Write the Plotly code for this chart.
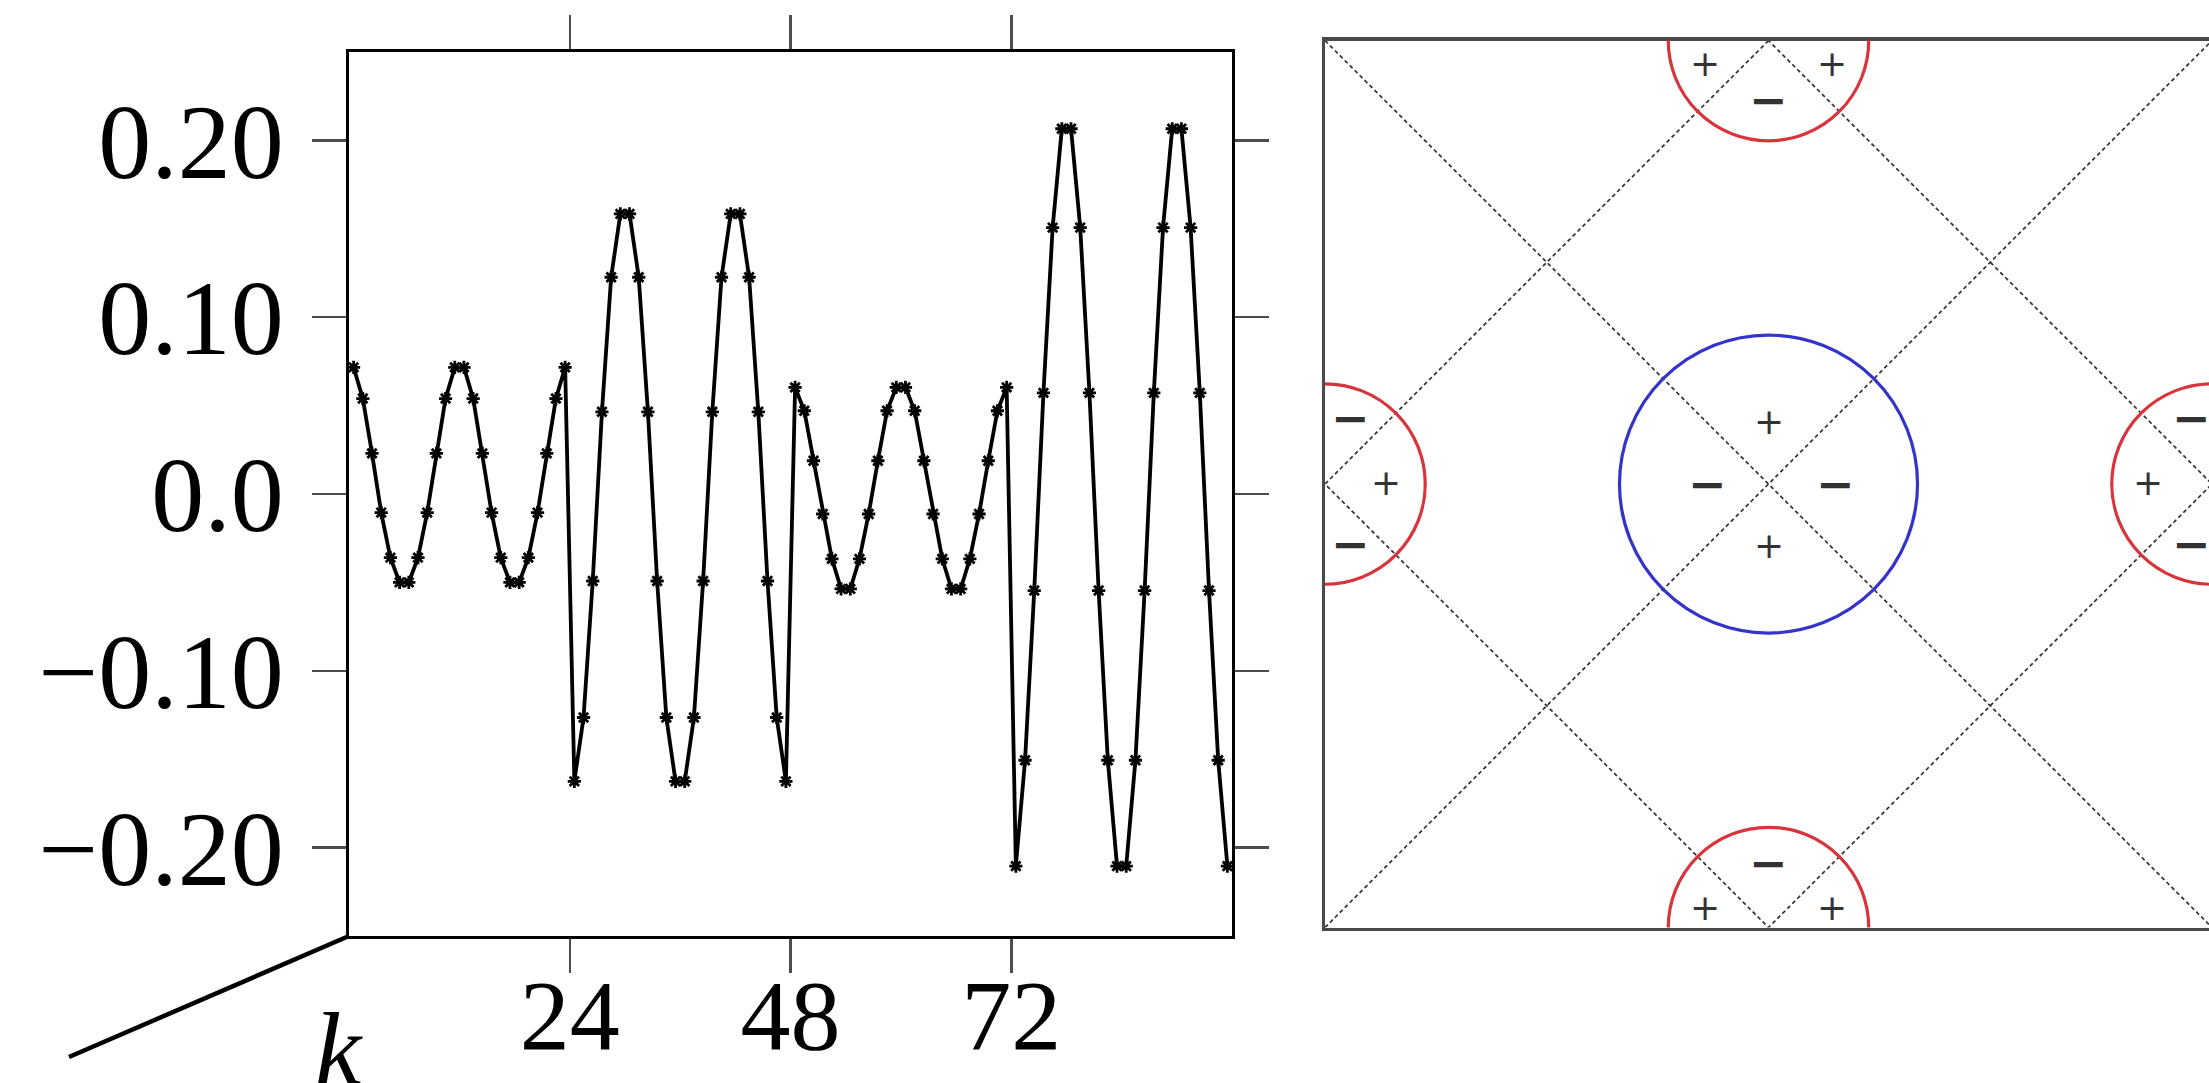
import numpy as np
import plotly.graph_objects as go

# ---------------- data: left panel ----------------
seg1 = [0.0716, 0.0540, 0.0230, -0.0105, -0.0360, -0.0500,
        -0.0500, -0.0360, -0.0105, 0.0230, 0.0540, 0.0716,
        0.0716, 0.0540, 0.0230, -0.0105, -0.0360, -0.0500,
        -0.0500, -0.0360, -0.0105, 0.0230, 0.0540, 0.0716]
seg2 = [-0.1625, -0.1264, -0.0492, 0.0465, 0.1226, 0.1584,
        0.1584, 0.1226, 0.0465, -0.0492, -0.1264, -0.1625,
        -0.1625, -0.1264, -0.0492, 0.0465, 0.1226, 0.1584,
        0.1584, 0.1226, 0.0465, -0.0492, -0.1264, -0.1625]
seg3 = [0.0603, 0.0471, 0.0188, -0.0113, -0.0367, -0.0537,
        -0.0537, -0.0367, -0.0113, 0.0188, 0.0471, 0.0603,
        0.0603, 0.0471, 0.0188, -0.0113, -0.0367, -0.0537,
        -0.0537, -0.0367, -0.0113, 0.0188, 0.0471, 0.0603]
seg4 = [-0.2105, -0.1506, -0.0546, 0.0572, 0.1507, 0.2066,
        0.2066, 0.1507, 0.0572, -0.0546, -0.1506, -0.2105,
        -0.2105, -0.1506, -0.0546, 0.0572, 0.1507, 0.2066,
        0.2066, 0.1507, 0.0572, -0.0546, -0.1506, -0.2105]
values = seg1 + seg2 + seg3 + seg4
k_pos = np.arange(len(values)) + 0.5

x_tickvals = [24, 48, 72]
x_ticktext = ["24", "48", "72"]
y_tickvals = [-0.2, -0.1, 0.0, 0.1, 0.2]
y_ticktext = ["\u22120.20", "\u22120.10", "0.0", "0.10", "0.20"]

# ---------------- data: right panel ----------------
diag_a_u = [0, 1]
diag_a_v = [0, 1]
diag_b_u = [0, 1]
diag_b_v = [1, 0]
diamond_u = [0.5, 0, 0.5, 1, 0.5]
diamond_v = [1, 0.5, 0, 0.5, 1]

red_centers = [(0.5, 1.0), (0.5, 0.0), (0.0, 0.5), (1.0, 0.5)]
red_radius = 0.113
blue_center = (0.5, 0.5)
blue_radius = 0.168

plus_u = [0.5, 0.5, 0.428, 0.572, 0.428, 0.572, 0.069, 0.928]
plus_v = [0.570, 0.431, 0.974, 0.974, 0.023, 0.023, 0.502, 0.502]
minus_u = [0.431, 0.576, 0.5, 0.5, 0.029, 0.029, 0.977, 0.977]
minus_v = [0.5, 0.5, 0.933, 0.073, 0.574, 0.432, 0.574, 0.432]

W, H = 2209, 1083
RED = "#d9333b"
BLUE = "#3434c8"
SERIF = "Liberation Serif"
R_LEFT = 1325

fig = go.Figure()

fig.add_trace(go.Scatter(
    x=k_pos, y=values, mode="lines+markers",
    line=dict(color="black", width=3.8),
    marker=dict(symbol="asterisk-open", size=11, color="black",
                line=dict(width=2.8, color="black")),
    xaxis="x", yaxis="y", hoverinfo="skip"))

dash = "4px,3px"
for uu, vv in [(diag_a_u, diag_a_v), (diag_b_u, diag_b_v), (diamond_u, diamond_v)]:
    fig.add_trace(go.Scatter(x=uu, y=vv, mode="lines",
                             line=dict(color="#333333", width=1.7, dash=dash),
                             xaxis="x2", yaxis="y2", hoverinfo="skip"))

shapes = []
for cu, cv in red_centers:
    shapes.append(dict(type="circle", xref="x2", yref="y2",
                       x0=cu - red_radius, x1=cu + red_radius,
                       y0=cv - red_radius, y1=cv + red_radius,
                       line=dict(color=RED, width=3.2)))
shapes.append(dict(type="circle", xref="x2", yref="y2",
                   x0=blue_center[0] - blue_radius, x1=blue_center[0] + blue_radius,
                   y0=blue_center[1] - blue_radius, y1=blue_center[1] + blue_radius,
                   line=dict(color=BLUE, width=3.2)))
# pseudo-3D k axis line
shapes.append(dict(type="line", xref="paper", yref="paper",
                   x0=349 / W, y0=1 - 936 / H, x1=69 / W, y1=1 - 1057 / H,
                   line=dict(color="black", width=4.5)))

annotations = []
for u, v in zip(plus_u, plus_v):
    annotations.append(dict(x=u, y=v, xref="x2", yref="y2", text="+",
                            showarrow=False, font=dict(family="DejaVu Sans", size=36, color="#333333"),
                            xanchor="center", yanchor="middle"))
for u, v in zip(minus_u, minus_v):
    annotations.append(dict(x=u, y=v, xref="x2", yref="y2", text="<b>\u2212</b>",
                            showarrow=False, font=dict(family="DejaVu Sans", size=46, color="#333333"),
                            xanchor="center", yanchor="middle"))
annotations.append(dict(x=339 / W, y=1 - 1048 / H, xref="paper", yref="paper",
                        text="<i>k</i>", showarrow=False,
                        font=dict(family=SERIF, size=104, color="black"),
                        xanchor="center", yanchor="middle"))

axis_common = dict(showgrid=False, zeroline=False, automargin=False)

fig.update_layout(
    width=W, height=H,
    margin=dict(l=0, r=0, t=0, b=0),
    paper_bgcolor="white", plot_bgcolor="white",
    showlegend=False,
    shapes=shapes, annotations=annotations,
    xaxis=dict(domain=[349 / W, 1232 / W], range=[0, 96], anchor="y",
               tickmode="array", tickvals=x_tickvals, ticktext=x_ticktext,
               ticks="outside", ticklen=34, tickwidth=2.5, tickcolor="#4d4d4d",
               showline=True, linewidth=3, linecolor="black", mirror="ticks",
               tickfont=dict(family=SERIF, size=100, color="black"),
               ticklabelstandoff=-44, **axis_common),
    yaxis=dict(domain=[1 - 936 / H, 1 - 52 / H], range=[-0.25, 0.25], anchor="x",
               tickmode="array", tickvals=y_tickvals, ticktext=y_ticktext,
               ticks="outside", ticklen=34, tickwidth=2.5, tickcolor="#4d4d4d",
               showline=True, linewidth=3, linecolor="black", mirror="ticks",
               tickfont=dict(family=SERIF, size=106, color="black"),
               ticklabelstandoff=7, **axis_common),
    xaxis2=dict(domain=[R_LEFT / W, 1.0], range=[0, (W - R_LEFT) / 887], anchor="y2",
                showticklabels=False, ticks="", showline=True, linewidth=3.5,
                linecolor="#4a4a4a", mirror=True, **axis_common),
    yaxis2=dict(domain=[1 - 927.5 / H, 1 - 40.6 / H], range=[0, 1], anchor="x2",
                showticklabels=False, ticks="", showline=True, linewidth=3,
                linecolor="#4a4a4a", mirror=False, **axis_common),
)

fig.write_html("out.html",
               config={"displayModeBar": False, "staticPlot": True},
               post_script="document.body.style.margin='0px';document.body.style.overflow='hidden';")
